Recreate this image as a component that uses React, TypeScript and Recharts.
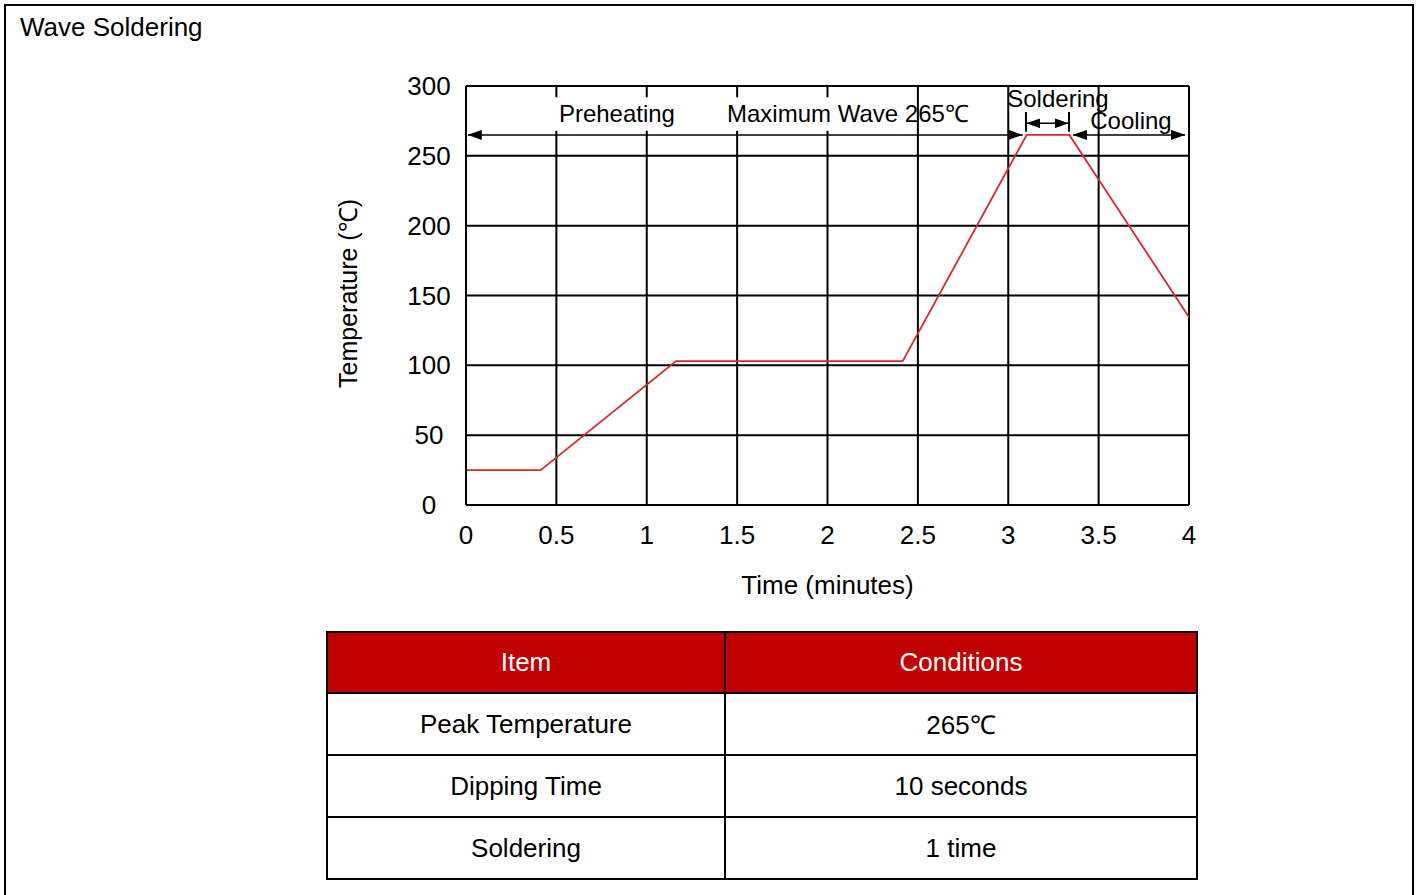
import React from "react";
import {
  LineChart,
  Line,
  XAxis,
  YAxis,
  CartesianGrid,
  ReferenceLine,
  ReferenceArea,
  ReferenceDot,
  Label,
} from "recharts";

// reflow profile
const times = [0, 0.413, 1.162, 2.416, 3.102, 3.338, 4];
const temps = [25, 25, 103, 103, 265, 265, 134.5];

const xTicks = [0, 0.5, 1, 1.5, 2, 2.5, 3, 3.5, 4];
const yTicks = [0, 50, 100, 150, 200, 250, 300];

const tableHeader = ["Item", "Conditions"];
const tableItems = ["Peak Temperature", "Dipping Time", "Soldering"];
const tableConditions = ["265℃", "10 seconds", "1 time"];

const data = times.map((t, i) => ({ time: t, temp: temps[i] }));

const FONT = "'Liberation Sans', Arial, Helvetica, sans-serif";

const XTick = ({ x, y, payload }: any) => (
  <text x={x} y={y} textAnchor="middle" dominantBaseline="central" fontSize={26} fill="#000">
    {payload.value}
  </text>
);

const YTick = ({ x, y, payload }: any) => (
  <text x={x} y={y} textAnchor="middle" dominantBaseline="central" fontSize={26} fill="#000">
    {payload.value}
  </text>
);

const arrowLine = (start: boolean, end: boolean) => (p: any) => (
  <line
    x1={p.x1}
    y1={p.y1}
    x2={p.x2}
    y2={p.y2}
    stroke="#000"
    strokeWidth={1.5}
    markerStart={start ? "url(#arrowHead)" : undefined}
    markerEnd={end ? "url(#arrowHead)" : undefined}
  />
);

const barLine = (p: any) => (
  <line x1={p.x1} y1={p.y1} x2={p.x2} y2={p.y2} stroke="#000" strokeWidth={2} />
);

const cell: React.CSSProperties = {
  border: "2px solid #000",
  textAlign: "center",
  verticalAlign: "middle",
  fontSize: 26,
  padding: 0,
};

export default function App() {
  return (
    <div style={{ position: "relative", width: 1416, height: 895, fontFamily: FONT, overflow: "hidden" }}>
      <style>{"body{margin:0}"}</style>
      <svg width={0} height={0} style={{ position: "absolute" }}>
        <defs>
          <marker
            id="arrowHead"
            viewBox="0 0 14 10"
            refX={14}
            refY={5}
            markerWidth={14}
            markerHeight={10}
            markerUnits="userSpaceOnUse"
            orient="auto-start-reverse"
          >
            <path d="M0,0 L14,5 L0,10 z" fill="#000" />
          </marker>
        </defs>
      </svg>

      <div
        style={{
          position: "absolute",
          left: 4,
          top: 4,
          width: 1406,
          height: 920,
          border: "2px solid #000",
        }}
      />
      <div style={{ position: "absolute", left: 20, top: 12, fontSize: 26, color: "#000" }}>
        Wave Soldering
      </div>

      <div style={{ position: "absolute", left: 0, top: 0 }}>
        <LineChart
          width={1416}
          height={620}
          data={data}
          margin={{ top: 86, right: 227, bottom: 25, left: 326 }}
          style={{ fontFamily: FONT }}
        >
          <CartesianGrid stroke="#000" strokeWidth={2} />
          <XAxis
            type="number"
            dataKey="time"
            domain={[0, 4]}
            ticks={xTicks}
            interval={0}
            height={90}
            tickSize={0}
            tickMargin={30}
            tickLine={false}
            axisLine={{ stroke: "#000", strokeWidth: 2 }}
            tick={XTick}
          >
            <Label
              content={({ viewBox }: any) => (
                <text
                  x={viewBox.x + viewBox.width / 2}
                  y={viewBox.y + 80}
                  textAnchor="middle"
                  dominantBaseline="central"
                  fontSize={26}
                  fill="#000"
                >
                  Time (minutes)
                </text>
              )}
            />
          </XAxis>
          <YAxis
            type="number"
            domain={[0, 300]}
            ticks={yTicks}
            interval={0}
            width={140}
            tickSize={0}
            tickMargin={37}
            tickLine={false}
            axisLine={{ stroke: "#000", strokeWidth: 2 }}
            tick={YTick}
          >
            <Label
              content={({ viewBox }: any) => {
                const cx = viewBox.x + 22;
                const cy = viewBox.y + viewBox.height / 2 - 2;
                return (
                  <text
                    x={cx}
                    y={cy}
                    transform={`rotate(-90 ${cx} ${cy})`}
                    textAnchor="middle"
                    dominantBaseline="central"
                    fontSize={25}
                    fill="#000"
                  >
                    Temperature (℃)
                  </text>
                );
              }}
            />
          </YAxis>

          <ReferenceLine y={300} stroke="#000" strokeWidth={2} />
          <ReferenceLine x={4} stroke="#000" strokeWidth={2} />

          <ReferenceArea x1={0.47} x2={1.24} y1={268} y2={292} fill="#fff" fillOpacity={1} stroke="none" />
          <ReferenceArea x1={1.43} x2={2.4} y1={268} y2={292} fill="#fff" fillOpacity={1} stroke="none" />

          <ReferenceLine
            segment={[{ x: 0.01, y: 265 }, { x: 3.08, y: 265 }]}
            shape={arrowLine(true, true)}
          />
          <ReferenceLine
            segment={[{ x: 3.1, y: 273.3 }, { x: 3.334, y: 273.3 }]}
            shape={arrowLine(true, true)}
          />
          <ReferenceLine
            segment={[{ x: 3.098, y: 267.3 }, { x: 3.098, y: 281.4 }]}
            shape={barLine}
          />
          <ReferenceLine
            segment={[{ x: 3.336, y: 267.3 }, { x: 3.336, y: 281.4 }]}
            shape={barLine}
          />
          <ReferenceLine
            segment={[{ x: 3.358, y: 265 }, { x: 3.978, y: 265 }]}
            shape={arrowLine(true, true)}
          />

          <ReferenceDot x={0.835} y={280} r={0} fill="none" stroke="none"
            label={{ value: "Preheating", position: "center", fontSize: 24, fill: "#000" }} />
          <ReferenceDot x={2.113} y={280} r={0} fill="none" stroke="none"
            label={{ value: "Maximum Wave 265℃", position: "center", fontSize: 24, fill: "#000" }} />
          <ReferenceDot x={3.275} y={291.4} r={0} fill="none" stroke="none"
            label={{ value: "Soldering", position: "center", fontSize: 24, fill: "#000" }} />
          <ReferenceDot x={3.679} y={275} r={0} fill="none" stroke="none"
            label={{ value: "Cooling", position: "center", fontSize: 24, fill: "#000" }} />

          <Line
            type="linear"
            dataKey="temp"
            stroke="#d42a2a"
            strokeWidth={1.8}
            dot={false}
            activeDot={false}
            isAnimationActive={false}
          />
        </LineChart>
      </div>

      <table
        style={{
          position: "absolute",
          left: 326,
          top: 631,
          width: 870,
          borderCollapse: "collapse",
          tableLayout: "fixed",
          fontFamily: FONT,
        }}
      >
        <colgroup>
          <col style={{ width: 398 }} />
          <col style={{ width: 472 }} />
        </colgroup>
        <thead>
          <tr style={{ height: 61 }}>
            {tableHeader.map((h) => (
              <th key={h} style={{ ...cell, background: "#c00000", color: "#fff", fontWeight: "normal" }}>
                {h}
              </th>
            ))}
          </tr>
        </thead>
        <tbody>
          {tableItems.map((item, i) => (
            <tr key={item} style={{ height: 62 }}>
              <td style={cell}>{item}</td>
              <td style={cell}>{tableConditions[i]}</td>
            </tr>
          ))}
        </tbody>
      </table>
    </div>
  );
}
